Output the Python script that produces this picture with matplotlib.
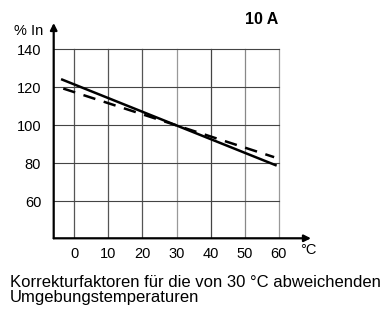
import matplotlib.pyplot as plt

plt.rcParams['font.family'] = ['Liberation Sans', 'DejaVu Sans']

temps = [0, 10, 20, 30, 40, 50, 60]
pct_ticks = [60, 80, 100, 120, 140]

solid_x = [-3.5, 59]
solid_y = [124, 79]
dashed_x = [-3.2, 58.6]
dashed_y = [119.3, 83.2]

grid_v_colors = ['#555', '#555', '#555', '#999', '#444', '#888', '#999']

fig = plt.figure(figsize=(3.83, 3.14), dpi=100)
ax = fig.add_axes([0.1402, 0.2411, 0.6718, 0.6857])
xmin, xmax = -6.0, 69.4
ymin, ymax = 40.5, 153.8
ax.set_xlim(xmin, xmax)
ax.set_ylim(ymin, ymax)
for s in ax.spines.values():
    s.set_visible(False)

# grid
for t, c in zip(temps, grid_v_colors):
    ax.plot([t, t], [ymin, pct_ticks[-1]], color=c, lw=0.9, zorder=1)
for p in pct_ticks:
    ax.plot([xmin, temps[-1]], [p, p], color='#444', lw=0.8, zorder=1)

# axes with arrows
arrow = dict(arrowstyle='-|>', color='black', lw=1.6,
             mutation_scale=10, shrinkA=0, shrinkB=0)
ax.annotate('', xy=(xmax, ymin), xytext=(xmin, ymin),
            arrowprops=arrow, annotation_clip=False)
ax.annotate('', xy=(xmin, ymax), xytext=(xmin, ymin),
            arrowprops=arrow, annotation_clip=False)

ax.plot(solid_x, solid_y, color='black', lw=1.8, zorder=3)
ax.plot(dashed_x, dashed_y, color='black', lw=1.8, dashes=(5, 3.5), zorder=3)

ax.set_xticks(temps)
ax.set_yticks(pct_ticks)
ax.tick_params(length=0, labelsize=10.5)
ax.tick_params(axis='x', pad=6)
ax.tick_params(axis='y', pad=9)

fig.text(0.806, 0.204, '°C', fontsize=10.5, ha='center', va='center')
fig.text(0.075, 0.902, '% In', fontsize=10.5, ha='center', va='center')
fig.text(0.683, 0.937, '10 A', fontsize=11.5, fontweight='bold', ha='center', va='center')
fig.text(0.026, 0.076, 'Korrekturfaktoren für die von 30 °C abweichenden\nUmgebungstemperaturen',
         fontsize=12, ha='left', va='center', linespacing=0.95)

fig.savefig('out.png', dpi=100)
